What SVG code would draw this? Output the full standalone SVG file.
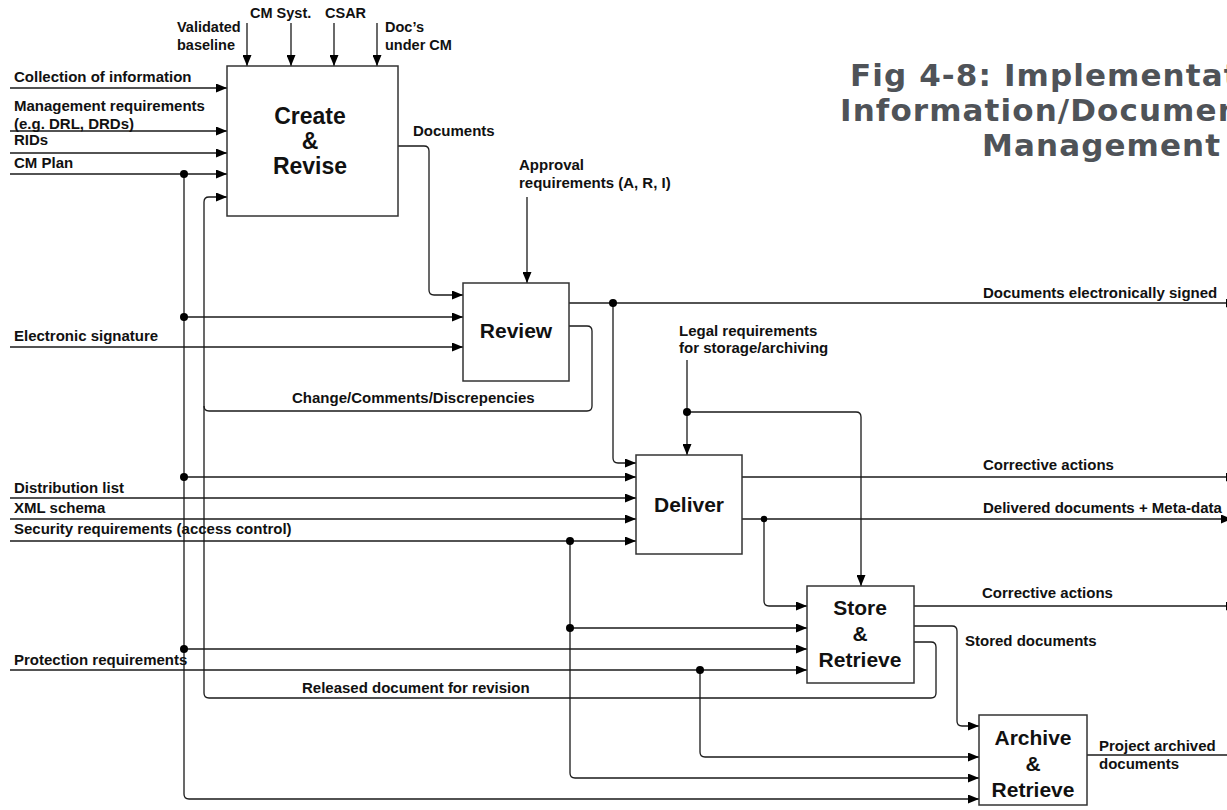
<svg xmlns="http://www.w3.org/2000/svg" width="1227" height="810" viewBox="0 0 1227 810">
<style>
.lbl{font-family:"Liberation Sans",Arial,sans-serif;font-weight:bold;font-size:15px;fill:#111}
.top{font-size:14.5px}
.box{fill:#fff;stroke:#333;stroke-width:1.5}
.bt{font-family:"Liberation Sans",Arial,sans-serif;font-weight:bold;font-size:21px;fill:#111;text-anchor:middle}
.big{font-size:23px}
.ln{fill:none;stroke:#1a1a1a;stroke-width:1.3}
.dot{fill:#000}
.title{font-family:"DejaVu Sans",Verdana,sans-serif;font-weight:bold;font-size:31px;fill:#4f5358;letter-spacing:1.1px}
</style>
<defs>
<marker id="ah" markerUnits="userSpaceOnUse" markerWidth="11" markerHeight="9" refX="11" refY="4.5" orient="auto">
<path d="M0,0 L11,4.5 L0,9 z" fill="#000"/>
</marker>
</defs>
<rect width="1227" height="810" fill="#fff"/>

<g id="title">
<text class="title" x="850" y="86">Fig 4-8: Implementation</text>
<text class="title" x="840" y="121">Information/Document</text>
<text class="title" x="982" y="156">Management</text>
</g>

<g id="connectors">
<path class="ln" marker-end="url(#ah)" d="M247,23 V66"/>
<path class="ln" marker-end="url(#ah)" d="M291,23 V66"/>
<path class="ln" marker-end="url(#ah)" d="M334,23 V66"/>
<path class="ln" marker-end="url(#ah)" d="M377,23 V66"/>
<path class="ln" marker-end="url(#ah)" d="M10,88 H227"/>
<path class="ln" marker-end="url(#ah)" d="M10,131 H227"/>
<path class="ln" marker-end="url(#ah)" d="M10,153 H227"/>
<path class="ln" marker-end="url(#ah)" d="M10,174 H227"/>
<path class="ln" marker-end="url(#ah)" d="M398,146 H424 Q429,146 429,151 V290 Q429,295 434,295 H463"/>
<path class="ln" marker-end="url(#ah)" d="M527,197 V283"/>
<path class="ln" marker-end="url(#ah)" d="M184,317 H463"/>
<path class="ln" marker-end="url(#ah)" d="M10,347 H463"/>
<path class="ln" d="M569,326 H587 Q592,326 592,331 V406 Q592,411 587,411 H209 Q204,411 204,406"/>
<path class="ln" marker-end="url(#ah)" d="M914,642 H931 Q936,642 936,647 V693 Q936,698 931,698 H209 Q204,698 204,693 V202 Q204,197 209,197 H227"/>
<path class="ln" marker-end="url(#ah)" d="M569,303 H1237"/>
<path class="ln" marker-end="url(#ah)" d="M613,303 V458 Q613,463 618,463 H636"/>
<path class="ln" marker-end="url(#ah)" d="M687,360 V455"/>
<path class="ln" marker-end="url(#ah)" d="M687,412 H856 Q861,412 861,417 V586"/>
<path class="ln" marker-end="url(#ah)" d="M184,174 V794 Q184,799 189,799 H979"/>
<path class="ln" marker-end="url(#ah)" d="M184,477 H636"/>
<path class="ln" marker-end="url(#ah)" d="M10,498 H636"/>
<path class="ln" marker-end="url(#ah)" d="M10,519 H636"/>
<path class="ln" marker-end="url(#ah)" d="M10,541 H636"/>
<path class="ln" marker-end="url(#ah)" d="M570,541 V773 Q570,778 575,778 H979"/>
<path class="ln" marker-end="url(#ah)" d="M570,628 H807"/>
<path class="ln" marker-end="url(#ah)" d="M184,649 H807"/>
<path class="ln" marker-end="url(#ah)" d="M10,670 H807"/>
<path class="ln" marker-end="url(#ah)" d="M700,670 V752 Q700,757 705,757 H979"/>
<path class="ln" marker-end="url(#ah)" d="M742,477 H1237"/>
<path class="ln" marker-end="url(#ah)" d="M742,519 H1232"/>
<path class="ln" marker-end="url(#ah)" d="M764,519 V601 Q764,606 769,606 H807"/>
<path class="ln" marker-end="url(#ah)" d="M914,606 H1237"/>
<path class="ln" marker-end="url(#ah)" d="M914,626 H952 Q957,626 957,631 V721 Q957,726 962,726 H979"/>
<path class="ln" d="M1087,755 H1227"/>
<circle class="dot" cx="184" cy="174" r="4"/>
<circle class="dot" cx="184" cy="317" r="4"/>
<circle class="dot" cx="184" cy="477" r="4"/>
<circle class="dot" cx="184" cy="649" r="4"/>
<circle class="dot" cx="613" cy="303" r="4"/>
<circle class="dot" cx="687" cy="412" r="4"/>
<circle class="dot" cx="570" cy="541" r="4"/>
<circle class="dot" cx="570" cy="628" r="4"/>
<circle class="dot" cx="700" cy="670" r="4"/>
<circle class="dot" cx="764" cy="519" r="3.2"/>
</g>

<g id="labels">
<text class="lbl top" x="177" y="32">Validated</text>
<text class="lbl top" x="177" y="50">baseline</text>
<text class="lbl top" x="250" y="18">CM Syst.</text>
<text class="lbl top" x="325" y="18">CSAR</text>
<text class="lbl top" x="385" y="32">Doc’s</text>
<text class="lbl top" x="385" y="50">under CM</text>
<text class="lbl" x="14" y="82">Collection of information</text>
<text class="lbl" x="14" y="111">Management requirements</text>
<text class="lbl" x="14" y="129">(e.g. DRL, DRDs)</text>
<text class="lbl" x="14" y="145">RIDs</text>
<text class="lbl" x="14" y="168">CM Plan</text>
<text class="lbl" x="413" y="136">Documents</text>
<text class="lbl" x="519" y="170">Approval</text>
<text class="lbl" x="519" y="188">requirements (A, R, I)</text>
<text class="lbl" x="14" y="341">Electronic signature</text>
<text class="lbl" x="292" y="403">Change/Comments/Discrepencies</text>
<text class="lbl" x="679" y="336">Legal requirements</text>
<text class="lbl" x="679" y="353">for storage/archiving</text>
<text class="lbl" x="983" y="298">Documents electronically signed</text>
<text class="lbl" x="983" y="470">Corrective actions</text>
<text class="lbl" x="983" y="513">Delivered documents + Meta-data</text>
<text class="lbl" x="14" y="493">Distribution list</text>
<text class="lbl" x="14" y="513">XML schema</text>
<text class="lbl" x="14" y="534">Security requirements (access control)</text>
<text class="lbl" x="982" y="598">Corrective actions</text>
<text class="lbl" x="965" y="646">Stored documents</text>
<text class="lbl" x="14" y="665">Protection requirements</text>
<text class="lbl" x="302" y="693">Released document for revision</text>
<text class="lbl" x="1099" y="751">Project archived</text>
<text class="lbl" x="1099" y="769">documents</text>
</g>

<g id="create-revise">
<rect class="box" x="227" y="66" width="171" height="150"/>
<text class="bt big" x="310" y="124">Create</text>
<text class="bt big" x="310" y="149">&amp;</text>
<text class="bt big" x="310" y="174">Revise</text>
</g>
<g id="review">
<rect class="box" x="463" y="283" width="106" height="98"/>
<text class="bt" x="516" y="338">Review</text>
</g>
<g id="deliver">
<rect class="box" x="636" y="455" width="106" height="99"/>
<text class="bt" x="689" y="512">Deliver</text>
</g>
<g id="store-retrieve">
<rect class="box" x="807" y="586" width="107" height="97"/>
<text class="bt" x="860" y="615">Store</text>
<text class="bt" x="860" y="641">&amp;</text>
<text class="bt" x="860" y="667">Retrieve</text>
</g>
<g id="archive-retrieve">
<rect class="box" x="979" y="715" width="108" height="90"/>
<text class="bt" x="1033" y="745">Archive</text>
<text class="bt" x="1033" y="771">&amp;</text>
<text class="bt" x="1033" y="797">Retrieve</text>
</g>
</svg>
